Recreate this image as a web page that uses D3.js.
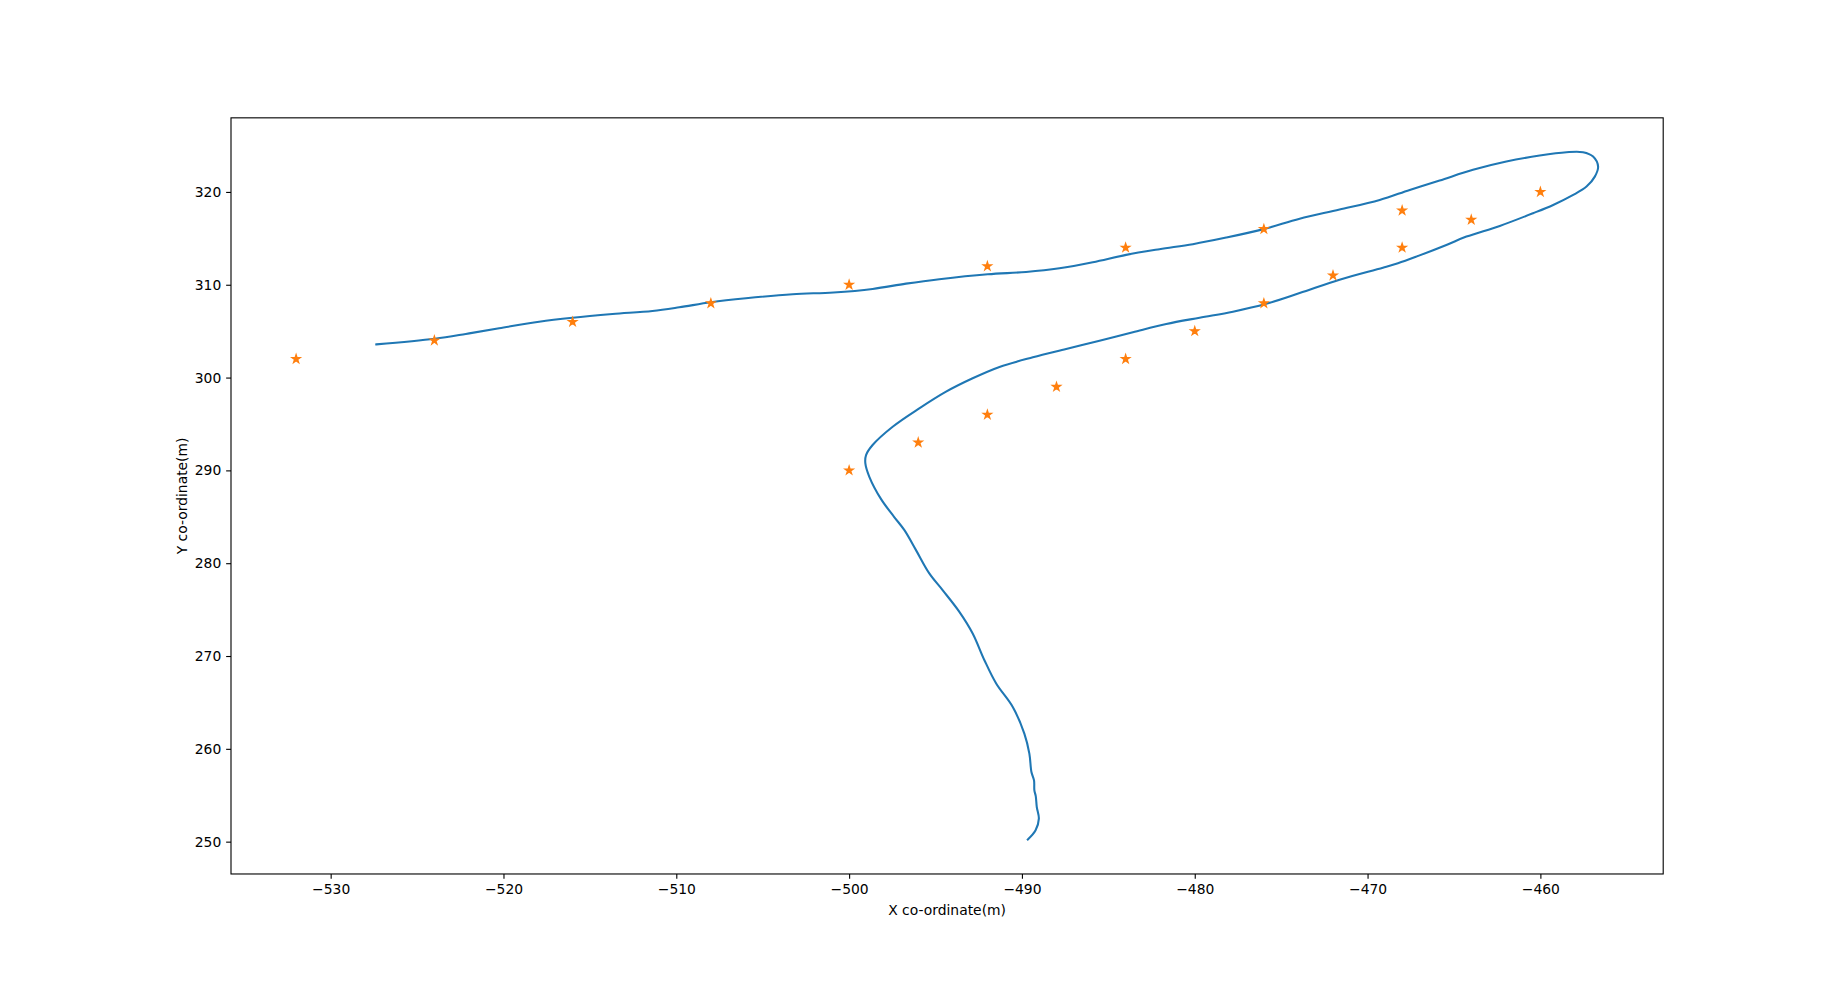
<!DOCTYPE html>
<html>
<head>
<meta charset="utf-8">
<script src="https://cdn.jsdelivr.net/npm/d3@7"></script>
<style>
  html, body { margin: 0; padding: 0; background: #fff; }
  svg { display: block; }
  text { font-family: "DejaVu Sans", sans-serif; fill: #000; }
</style>
</head>
<body>
<svg id="chart" width="1848" height="982"></svg>
<script>
// ---- data ----
const pathX = [-527.36,-523.98,-522.18,-520.25,-517.94,-516.01,-513.69,-511.38,-509.83,-508.0,-505.97,-503.27,-500.9,-498.64,-496.71,-494.78,-491.98,-489.76,-487.83,-485.90,-483.97,-482.04,-480.11,-478.18,-475.96,-473.93,-471.62,-469.30,-467.56,-465.83,-463.90,-461.97,-460.04,-458.49,-457.53,-456.95,-456.66,-456.85,-457.33,-458.10,-459.26,-460.42,-462.35,-464.28,-465.44,-467.18,-468.24,-469.11,-471.62,-473.93,-475.86,-477.79,-479.72,-481.65,-483.58,-485.51,-487.44,-489.37,-491.30,-492.85,-494.39,-495.94,-497.48,-498.64,-499.02,-499.06,-498.83,-498.15,-497.4,-496.8,-496.13,-495.36,-494.59,-493.62,-492.85,-492.17,-491.49,-490.53,-489.86,-489.57,-489.45,-489.3,-489.28,-489.2,-489.14,-489.02,-489.21,-489.66];
const pathY = [303.58,304.19,304.70,305.31,306.02,306.45,306.85,307.18,307.57,308.11,308.54,308.98,309.17,309.55,310.12,310.60,311.13,311.38,311.78,312.43,313.22,313.83,314.37,315.08,316.02,317.12,318.10,319.14,320.22,321.23,322.38,323.27,323.92,324.28,324.28,323.81,322.73,321.65,320.58,319.68,318.60,317.71,316.34,315.19,314.29,313.03,312.32,311.84,310.55,309.10,307.95,307.10,306.45,305.77,304.88,303.97,303.08,302.18,301.14,299.92,298.48,296.68,294.70,292.73,291.65,290.75,289.31,286.90,285.00,283.56,281.41,278.90,277.10,274.76,272.43,269.55,267.04,264.51,261.64,259.49,257.50,256.60,255.53,254.90,253.73,252.48,251.22,250.22];
const starX = [-532,-524,-516,-508,-500,-492,-484,-476,-468,-460,-464,-468,-472,-476,-480,-484,-488,-492,-496,-500];
const starY = [302,304,306,308,310,312,314,316,318,320,317,314,311,308,305,302,299,296,293,290];
const xTicks = [-530,-520,-510,-500,-490,-480,-470,-460];
const yTicks = [250,260,270,280,290,300,310,320];
const xLabel = "X co-ordinate(m)";
const yLabel = "Y co-ordinate(m)";

(function () {
// ---- layout ----
const W = 1848, H = 982;
const mLeft = 0.125 * W, mRight = 0.9 * W, mTop = (1 - 0.88) * H, mBottom = (1 - 0.11) * H;

const allX = pathX.concat(starX), allY = pathY.concat(starY);
const [xmin, xmax] = d3.extent(allX), [ymin, ymax] = d3.extent(allY);
const xr = xmax - xmin, yr = ymax - ymin;
const x = d3.scaleLinear().domain([xmin - 0.05 * xr, xmax + 0.05 * xr]).range([mLeft, mRight]);
const y = d3.scaleLinear().domain([ymin - 0.05 * yr, ymax + 0.05 * yr]).range([mBottom, mTop]);

const svg = d3.select("#chart");
svg.append("rect").attr("width", W).attr("height", H).attr("fill", "#fff");

const fmt = d => (d < 0 ? "\u2212" + Math.abs(d) : String(d));

svg.append("clipPath").attr("id", "clip").append("rect")
  .attr("x", mLeft).attr("y", mTop).attr("width", mRight - mLeft).attr("height", mBottom - mTop);

const pts = pathX.map((d, i) => [d, pathY[i]]);
svg.append("path")
  .attr("clip-path", "url(#clip)")
  .attr("d", d3.line().x(d => x(d[0])).y(d => y(d[1])).curve(d3.curveCatmullRom.alpha(0.5))(pts))
  .attr("fill", "none")
  .attr("stroke", "#1f77b4")
  .attr("stroke-width", 2.08)
  .attr("stroke-linejoin", "round")
  .attr("stroke-linecap", "square");

const r = 0.5 * 6 * 100 / 72;
const star = d3.symbol().type(d3.symbolStar).size(r * r / 0.8908130915292852);
svg.append("g").selectAll("path")
  .data(starX.map((d, i) => [d, starY[i]]))
  .join("path")
  .attr("transform", d => `translate(${x(d[0])},${y(d[1])})`)
  .attr("d", star())
  .attr("fill", "#ff7f0e")
  .attr("stroke", "#ff7f0e")
  .attr("stroke-width", 1.39)
  .attr("stroke-linejoin", "miter");

const tickLen = 3.5 * 100 / 72, pad = 3.5 * 100 / 72;
const xAxis = d3.axisBottom(x).tickValues(xTicks).tickFormat(fmt).tickSizeInner(tickLen).tickSizeOuter(0).tickPadding(pad);
const yAxis = d3.axisLeft(y).tickValues(yTicks).tickFormat(fmt).tickSizeInner(tickLen).tickSizeOuter(0).tickPadding(pad);

const gx = svg.append("g").attr("transform", `translate(0,${mBottom})`).call(xAxis);
const gy = svg.append("g").attr("transform", `translate(${mLeft},0)`).call(yAxis);
[gx, gy].forEach(g => {
  g.select(".domain").remove();
  g.selectAll(".tick line").attr("stroke", "#000").attr("stroke-width", 1.11);
  g.selectAll(".tick text").attr("font-family", "DejaVu Sans").attr("font-size", 13.89).attr("fill", "#000");
});

svg.append("rect")
  .attr("x", mLeft).attr("y", mTop).attr("width", mRight - mLeft).attr("height", mBottom - mTop)
  .attr("fill", "none").attr("stroke", "#000").attr("stroke-width", 1.11);

svg.append("text")
  .attr("x", (mLeft + mRight) / 2).attr("y", 915)
  .attr("text-anchor", "middle").attr("font-size", 13.89)
  .text(xLabel);
svg.append("text")
  .attr("transform", `translate(186.5,${(mTop + mBottom) / 2}) rotate(-90)`)
  .attr("text-anchor", "middle").attr("font-size", 13.89)
  .text(yLabel);
})();
</script>
</body>
</html>
